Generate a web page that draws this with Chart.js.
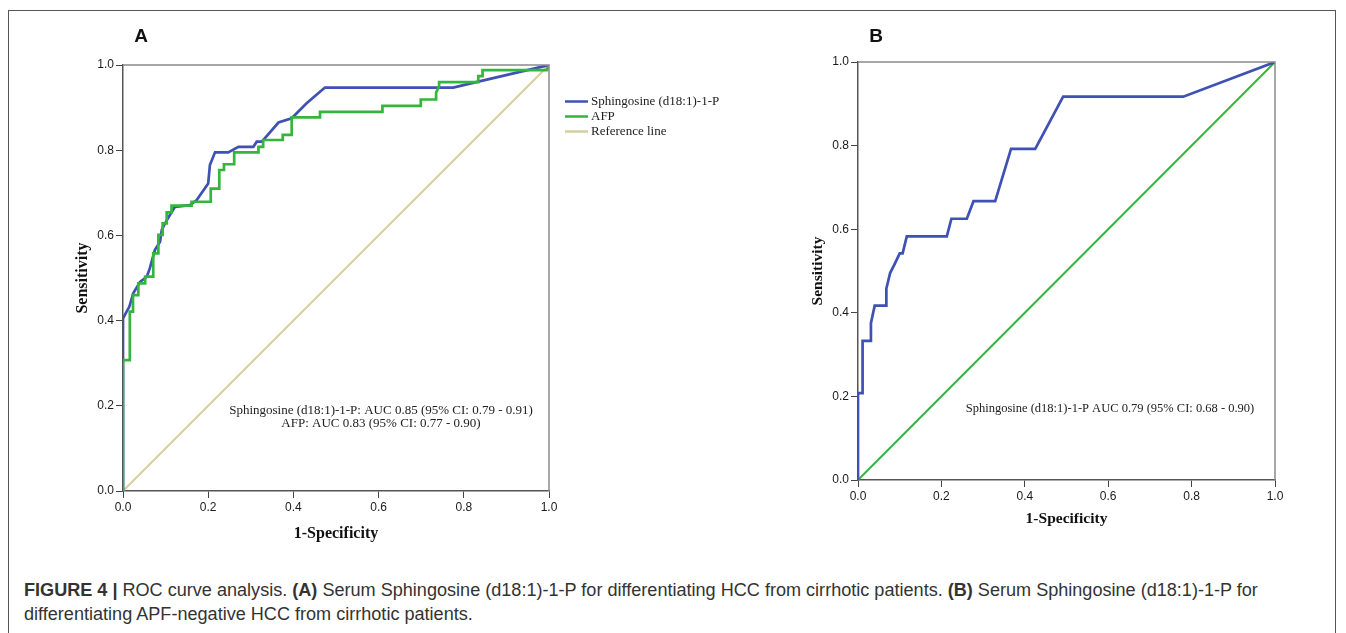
<!DOCTYPE html>
<html><head><meta charset="utf-8">
<script src="https://cdn.jsdelivr.net/npm/chart.js@4.4.1/dist/chart.umd.min.js"></script>
<style>
html,body{margin:0;padding:0;background:#fff;width:1346px;height:633px;overflow:hidden;position:relative;}
#frame{position:absolute;left:8px;top:10px;width:1328px;height:660px;border:1px solid #555;box-sizing:border-box;}
canvas{position:absolute;top:0;}
#cA{left:0}
#cB{left:700px}
.plab{position:absolute;font:bold 19px "Liberation Sans",Arial,sans-serif;color:#111;transform:translate(-50%,-50%);}
#caption{position:absolute;left:24px;top:578px;font-family:"Liberation Sans",Arial,sans-serif;font-size:16px;line-height:24px;color:#333;white-space:nowrap;}
</style></head>
<body>
<div id="frame"></div>
<canvas id="cA" width="760" height="560"></canvas>
<canvas id="cB" width="646" height="560"></canvas>
<div class="plab" style="left:141px;top:36px">A</div>
<div class="plab" style="left:876px;top:36px">B</div>
<div id="caption"><span id="l1"><b>FIGURE 4 |</b> ROC curve analysis. <b>(A)</b> Serum Sphingosine (d18:1)-1-P for differentiating HCC from cirrhotic patients. <b>(B)</b> Serum Sphingosine (d18:1)-1-P for</span><br>differentiating APF-negative HCC from cirrhotic patients.</div>
<script>
// ---------- data ----------
const tickValues = [0, 0.2, 0.4, 0.6, 0.8, 1.0];
const tickLabels = ['0.0', '0.2', '0.4', '0.6', '0.8', '1.0'];
const seriesNamesA = ['Sphingosine (d18:1)-1-P', 'AFP', 'Reference line'];

const aSphFpr = [0, 0, 0.015, 0.024, 0.040, 0.056, 0.063, 0.075, 0.087, 0.091, 0.099, 0.110, 0.122, 0.157, 0.173, 0.200, 0.204, 0.216, 0.247, 0.271, 0.306, 0.314, 0.326, 0.365, 0.396, 0.431, 0.474, 0.775, 0.834, 1.0];
const aSphTpr = [0, 0.405, 0.433, 0.464, 0.491, 0.503, 0.523, 0.566, 0.585, 0.613, 0.629, 0.648, 0.667, 0.671, 0.683, 0.722, 0.765, 0.795, 0.795, 0.808, 0.808, 0.820, 0.820, 0.865, 0.875, 0.910, 0.947, 0.947, 0.961, 1.0];

const aAfpFpr = [0, 0, 0.016, 0.016, 0.0235, 0.0235, 0.036, 0.036, 0.052, 0.052, 0.071, 0.071, 0.083, 0.083, 0.093, 0.093, 0.1026, 0.1026, 0.114, 0.114, 0.161, 0.161, 0.206, 0.206, 0.226, 0.226, 0.237, 0.237, 0.261, 0.261, 0.318, 0.318, 0.329, 0.329, 0.375, 0.375, 0.396, 0.396, 0.4625, 0.4625, 0.609, 0.609, 0.699, 0.699, 0.735, 0.735, 0.742, 0.742, 0.834, 0.834, 0.844, 0.844, 0.995, 1.0];
const aAfpTpr = [0, 0.307, 0.307, 0.421, 0.421, 0.460, 0.460, 0.4875, 0.4875, 0.503, 0.503, 0.558, 0.558, 0.601, 0.601, 0.628, 0.628, 0.654, 0.654, 0.670, 0.670, 0.679, 0.679, 0.710, 0.710, 0.7535, 0.7535, 0.767, 0.767, 0.795, 0.795, 0.808, 0.808, 0.824, 0.824, 0.836, 0.836, 0.877, 0.877, 0.890, 0.890, 0.904, 0.904, 0.919, 0.919, 0.935, 0.951, 0.960, 0.960, 0.974, 0.974, 0.988, 0.988, 1.0];

const refFpr = [0, 1];
const refTpr = [0, 1];

const bSphFpr = [0, 0, 0.011, 0.011, 0.029, 0.031, 0.040, 0.068, 0.068, 0.077, 0.089, 0.100, 0.107, 0.117, 0.213, 0.224, 0.261, 0.277, 0.329, 0.367, 0.425, 0.492, 0.780, 1.0];
const bSphTpr = [0, 0.208, 0.208, 0.333, 0.333, 0.375, 0.417, 0.417, 0.458, 0.495, 0.519, 0.542, 0.542, 0.583, 0.583, 0.625, 0.625, 0.667, 0.667, 0.792, 0.792, 0.917, 0.917, 1.0];

const annotA = ['Sphingosine (d18:1)-1-P: AUC 0.85 (95% CI: 0.79 - 0.91)', 'AFP: AUC 0.83 (95% CI: 0.77 - 0.90)'];
const annotB = ['Sphingosine (d18:1)-1-P AUC 0.79 (95% CI: 0.68 - 0.90)'];

// ---------- helpers ----------
const BLUE = '#3F52B4', GREEN = '#34B53E', TAN = '#D6CF9E';
const pts = (xs, ys) => xs.map((x, i) => ({x: x, y: ys[i]}));

function axis(isX, fixed, titleText, titleSize, titlePad) {
  return {
    type: 'linear', min: 0, max: 1,
    afterBuildTicks: s => { s.ticks = tickValues.map(v => ({value: v})); },
    afterFit: s => { if (isX) s.height = fixed; else s.width = fixed; },
    ticks: {callback: (v, i) => tickLabels[i], font: {family: 'Liberation Sans', size: 12}, color: '#1a1a1a', padding: 2, autoSkip: false, maxRotation: 0},
    grid: {drawOnChartArea: false, tickLength: 7, color: '#444', lineWidth: 1},
    border: {color: '#555', width: 1.5},
    title: {display: true, text: titleText, font: {family: 'Liberation Serif', size: titleSize, weight: 'bold'}, color: '#111', padding: titlePad}
  };
}

const boxPlugin = {
  id: 'box',
  afterDraw(chart) {
    const {ctx, chartArea: a} = chart;
    ctx.save();
    ctx.strokeStyle = '#8a8a8a'; ctx.lineWidth = 1.5;
    ctx.beginPath();
    ctx.moveTo(a.left, a.top); ctx.lineTo(a.right, a.top); ctx.lineTo(a.right, a.bottom);
    ctx.stroke();
    ctx.restore();
  }
};

function annotPlugin(lines, cx, cy, size, lh) {
  return {
    id: 'annot',
    afterDraw(chart) {
      const {ctx, chartArea: a} = chart;
      ctx.save();
      ctx.font = size + 'px "Liberation Serif"';
      ctx.fillStyle = '#222'; ctx.textAlign = 'center'; ctx.textBaseline = 'middle';
      lines.forEach((t, i) => ctx.fillText(t, a.left + cx, a.top + cy + i * lh));
      ctx.restore();
    }
  };
}

const legendPlugin = {
  id: 'customLegend',
  afterDraw(chart) {
    const {ctx, chartArea: a} = chart;
    ctx.save();
    ctx.font = '13px "Liberation Serif"';
    ctx.textBaseline = 'middle'; ctx.textAlign = 'left';
    seriesNamesA.forEach((name, i) => {
      const ds = chart.data.datasets.find(d => d.label === name);
      const y = 101.5 + i * 15;
      ctx.strokeStyle = ds.borderColor; ctx.lineWidth = 2.5;
      ctx.beginPath(); ctx.moveTo(a.right + 16, y); ctx.lineTo(a.right + 39, y); ctx.stroke();
      ctx.fillStyle = '#222';
      ctx.fillText(name, a.right + 42, y);
    });
    ctx.restore();
  }
};

const common = {responsive: false, animation: false, events: [],
  plugins: {legend: {display: false}, tooltip: {enabled: false}}};

// ---------- chart A ----------
new Chart(document.getElementById('cA'), {
  type: 'scatter',
  data: {datasets: [
    {label: seriesNamesA[0], data: pts(aSphFpr, aSphTpr), showLine: true, borderColor: BLUE, backgroundColor: BLUE, borderWidth: 2.7, pointRadius: 0, order: 1},
    {label: seriesNamesA[1], data: pts(aAfpFpr, aAfpTpr), showLine: true, borderColor: GREEN, backgroundColor: GREEN, borderWidth: 2.7, pointRadius: 0, order: 0},
    {label: seriesNamesA[2], data: pts(refFpr, refTpr), showLine: true, borderColor: TAN, backgroundColor: TAN, borderWidth: 2, pointRadius: 0, order: 2}
  ]},
  options: Object.assign({}, common, {
    layout: {padding: {left: 70, top: 65, right: 211, bottom: 15}},
    scales: {
      x: axis(true, 54, '1-Specificity', 16, {top: 0, bottom: 2}),
      y: axis(false, 53, 'Sensitivity', 16, {top: 3, bottom: 0})
    }
  }),
  plugins: [boxPlugin, annotPlugin(annotA, 258, 346, 13, 13), legendPlugin]
});

// ---------- chart B ----------
new Chart(document.getElementById('cB'), {
  type: 'scatter',
  data: {datasets: [
    {label: 'Sphingosine (d18:1)-1-P', data: pts(bSphFpr, bSphTpr), showLine: true, borderColor: BLUE, backgroundColor: BLUE, borderWidth: 2.7, pointRadius: 0, order: 0},
    {label: 'Reference line', data: pts(refFpr, refTpr), showLine: true, borderColor: GREEN, backgroundColor: GREEN, borderWidth: 2, pointRadius: 0, order: 1}
  ]},
  options: Object.assign({}, common, {
    layout: {padding: {left: 105, top: 62, right: 71, bottom: 29}},
    scales: {
      x: axis(true, 51, '1-Specificity', 15.5, {top: 0, bottom: 3}),
      y: axis(false, 53, 'Sensitivity', 15.5, {top: 4, bottom: 0})
    }
  }),
  plugins: [boxPlugin, annotPlugin(annotB, 252, 347, 12.5, 13)]
});

// fit caption line 1 width to reference
(function(){
  const cap = document.getElementById('caption');
  const w = document.getElementById('l1').getBoundingClientRect().width;
  const target = 1235;
  cap.style.fontSize = (16 * target / w).toFixed(2) + 'px';
})();
</script>
</body></html>
